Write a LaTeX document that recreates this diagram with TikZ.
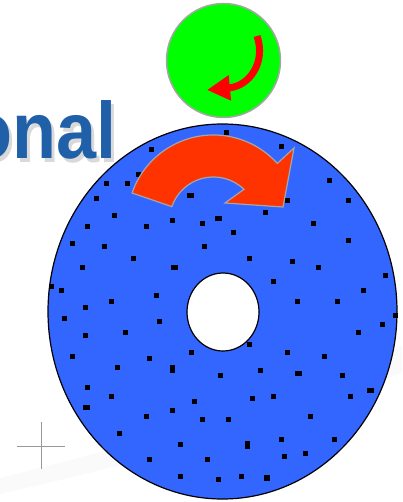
\documentclass[tikz,border=0pt]{standalone}
\usepackage{fontspec}
\usepackage{xcolor}
\usepackage{tikz}
\usetikzlibrary{arrows.meta}
\newfontfamily\headfont{Liberation Sans}
\definecolor{discblue}{RGB}{51,102,255}
\definecolor{rollgreen}{RGB}{0,255,0}
\definecolor{spinred}{RGB}{255,51,0}
\definecolor{titleblue}{RGB}{32,96,168}
\tikzset{speck/.style={fill=black, draw=black, line width=0.8pt}}

\begin{document}
\begin{tikzpicture}[x=1pt, y=-1pt]
  \useasboundingbox (0,0) rectangle (402,502);
  \clip (0,0) rectangle (402,502);
  \fill[black!2] (0,478) .. controls (150,440) and (300,400) .. (402,345) -- (402,372) .. controls (300,420) and (150,460) .. (0,494) -- cycle;
  \draw[gray!80, line width=1pt] (17,446) -- (65,446);
  \draw[gray!80, line width=1pt] (41,422) -- (41,469);
  \node[font=\headfont\bfseries\fontsize{80}{80}\selectfont, text=black!15, anchor=base east, inner sep=0pt, xscale=0.9] (titleshadow) at (120,163) {onal};
  \node[font=\headfont\bfseries\fontsize{80}{80}\selectfont, text=titleblue, anchor=base east, inner sep=0pt, xscale=0.9] (title) at (117,159) {onal};
  \draw[gray!70, line width=1.5pt, fill=rollgreen] (223.5,60.5) circle [radius=57];
  \draw[red, line width=7pt, -{Triangle[length=23pt, width=24pt]}] (257,36) .. controls (266,62) and (250,86) .. (207,90);
  \draw[black, line width=1.2pt, fill=discblue, even odd rule] (222.5,311.5) ellipse [x radius=174.5, y radius=187.5] (223,312) ellipse [x radius=36, y radius=39];
  \fill[speck] (224,130) rectangle +(4,4);
  \fill[speck] (149,147) rectangle +(4,4);
  \fill[speck] (279,144) rectangle +(4,4);
  \fill[speck] (136,172) rectangle +(4,4);
  \fill[speck] (104,181) rectangle +(4,4);
  \fill[speck] (125,181) rectangle +(4,4);
  \fill[speck] (327,178) rectangle +(4,4);
  \fill[speck] (94,196) rectangle +(4,4);
  \fill[speck] (187,193) rectangle +(6,4);
  \fill[speck] (285,198) rectangle +(4,4);
  \fill[speck] (346,198) rectangle +(4,4);
  \fill[speck] (112,213) rectangle +(4,4);
  \fill[speck] (263,210) rectangle +(4,4);
  \fill[speck] (170,218) rectangle +(4,4);
  \fill[speck] (215,216) rectangle +(6,4);
  \fill[speck] (200,221) rectangle +(4,4);
  \fill[speck] (311,221) rectangle +(4,4);
  \fill[speck] (85,224) rectangle +(4,4);
  \fill[speck] (144,224) rectangle +(4,4);
  \fill[speck] (231,230) rectangle +(4,4);
  \fill[speck] (346,238) rectangle +(4,4);
  \fill[speck] (70,241) rectangle +(4,4);
  \fill[speck] (102,244) rectangle +(4,4);
  \fill[speck] (202,244) rectangle +(4,4);
  \fill[speck] (131,256) rectangle +(4,4);
  \fill[speck] (247,256) rectangle +(4,4);
  \fill[speck] (290,259) rectangle +(4,4);
  \fill[speck] (316,265) rectangle +(4,4);
  \fill[speck] (80,265) rectangle +(4,4);
  \fill[speck] (171,265) rectangle +(6,4);
  \fill[speck] (383,273) rectangle +(4,4);
  \fill[speck] (49,284) rectangle +(4,4);
  \fill[speck] (271,279) rectangle +(4,4);
  \fill[speck] (59,288) rectangle +(4,4);
  \fill[speck] (361,288) rectangle +(4,4);
  \fill[speck] (154,293) rectangle +(4,4);
  \fill[speck] (109,299) rectangle +(4,4);
  \fill[speck] (295,299) rectangle +(4,4);
  \fill[speck] (335,299) rectangle +(4,4);
  \fill[speck] (83,305) rectangle +(4,4);
  \fill[speck] (393,313) rectangle +(4,4);
  \fill[speck] (62,316) rectangle +(4,4);
  \fill[speck] (157,319) rectangle +(4,4);
  \fill[speck] (380,322) rectangle +(4,4);
  \fill[speck] (123,330) rectangle +(4,4);
  \fill[speck] (356,330) rectangle +(4,4);
  \fill[speck] (83,333) rectangle +(4,4);
  \fill[speck] (247,342) rectangle +(4,4);
  \fill[speck] (189,350) rectangle +(4,4);
  \fill[speck] (285,350) rectangle +(4,4);
  \fill[speck] (70,354) rectangle +(4,4);
  \fill[speck] (322,354) rectangle +(4,4);
  \fill[speck] (147,356) rectangle +(4,4);
  \fill[speck] (115,365) rectangle +(4,4);
  \fill[speck] (170,365) rectangle +(4,7);
  \fill[speck] (258,368) rectangle +(4,4);
  \fill[speck] (295,371) rectangle +(6,4);
  \fill[speck] (218,373) rectangle +(4,4);
  \fill[speck] (340,373) rectangle +(4,4);
  \fill[speck] (85,385) rectangle +(4,4);
  \fill[speck] (367,388) rectangle +(6,4);
  \fill[speck] (109,394) rectangle +(4,4);
  \fill[speck] (271,394) rectangle +(4,4);
  \fill[speck] (348,394) rectangle +(4,4);
  \fill[speck] (250,396) rectangle +(4,4);
  \fill[speck] (192,399) rectangle +(4,4);
  \fill[speck] (83,405) rectangle +(6,4);
  \fill[speck] (170,408) rectangle +(4,4);
  \fill[speck] (144,414) rectangle +(4,4);
  \fill[speck] (308,414) rectangle +(4,4);
  \fill[speck] (200,417) rectangle +(4,4);
  \fill[speck] (226,417) rectangle +(4,4);
  \fill[speck] (117,431) rectangle +(4,4);
  \fill[speck] (332,437) rectangle +(4,4);
  \fill[speck] (279,437) rectangle +(4,4);
  \fill[speck] (245,441) rectangle +(4,7);
  \fill[speck] (178,442) rectangle +(4,4);
  \fill[speck] (282,454) rectangle +(4,4);
  \fill[speck] (303,451) rectangle +(4,4);
  \fill[speck] (147,457) rectangle +(4,4);
  \fill[speck] (205,457) rectangle +(4,4);
  \fill[speck] (178,474) rectangle +(4,4);
  \fill[speck] (216,477) rectangle +(4,4);
  \fill[speck] (239,474) rectangle +(4,4);
  \fill[speck] (264,475) rectangle +(5,5);
  \draw[gray!70, line width=1.2pt, fill=spinred] (213.4,221) ++(-161:86) arc[start angle=-161, end angle=-42, radius=86] -- (294,148) -- (283,207) -- (225,203) -- (244,189.3) arc[start angle=-46, end angle=-161, radius=44] -- cycle;
\end{tikzpicture}
\end{document}
